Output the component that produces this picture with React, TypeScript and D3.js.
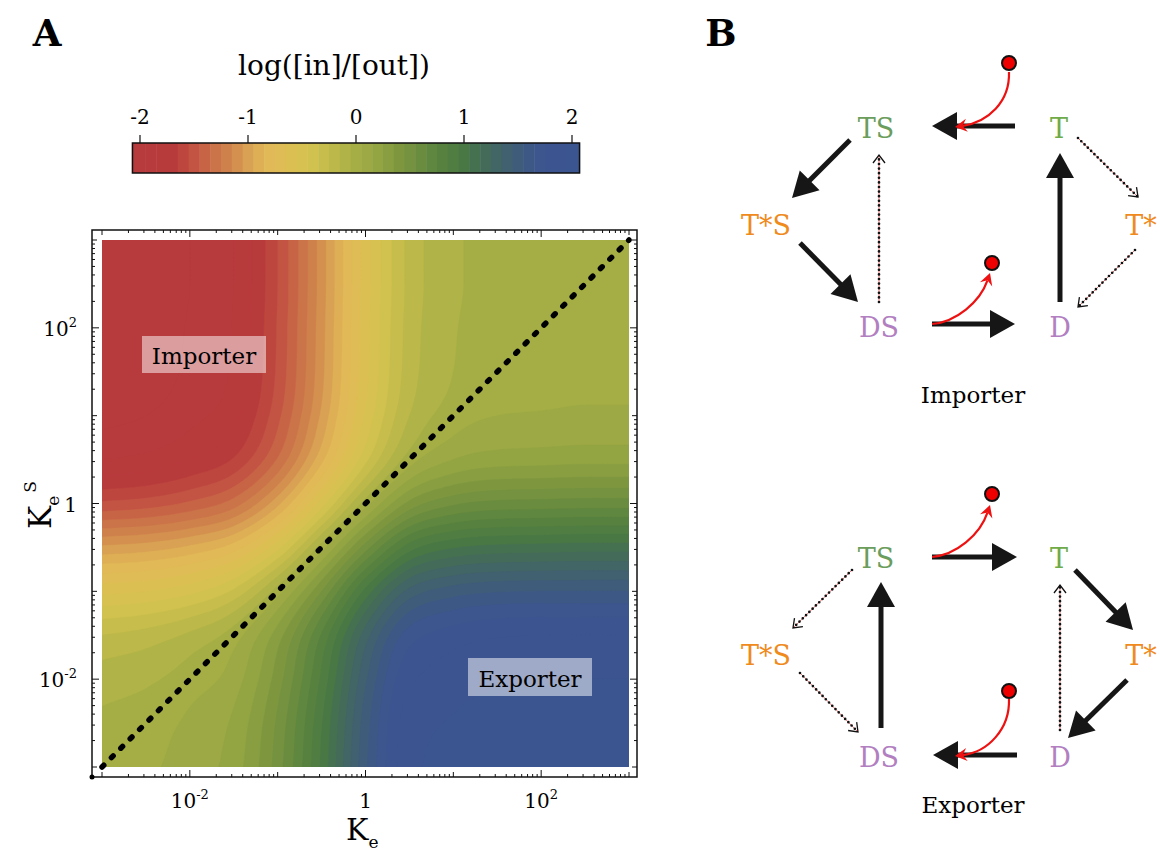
import React, { useMemo } from 'react';
import * as d3 from 'd3';

const FONT = '"DejaVu Serif", serif';

// grid positions, log10 of K_e (columns) and K_e^S (rows, top to bottom)
const logKe = [-3, -2.5, -2, -1.5, -1, -0.5, 0, 0.5, 1, 1.5, 2, 2.5, 3];
const logKeS = [3, 2.5, 2, 1.5, 1, 0.5, 0, -0.5, -1, -1.5, -2, -2.5, -3];

// log([in]/[out])
const logRatio = [
  [-2.05, -2.02, -1.95, -1.85, -1.55, -1.1, -0.6, -0.22, -0.07, -0.02, -0.01, 0.0, 0.0],
  [-2.05, -2.02, -1.95, -1.85, -1.55, -1.1, -0.6, -0.22, -0.07, -0.02, -0.01, 0.0, 0.0],
  [-2.04, -2.01, -1.94, -1.84, -1.54, -1.09, -0.59, -0.21, -0.06, -0.01, 0.0, 0.01, 0.01],
  [-2.03, -2.0, -1.93, -1.83, -1.53, -1.08, -0.58, -0.2, -0.05, 0.0, 0.01, 0.02, 0.02],
  [-1.98, -1.95, -1.88, -1.78, -1.48, -1.03, -0.53, -0.15, 0.0, 0.05, 0.06, 0.07, 0.07],
  [-1.85, -1.82, -1.75, -1.64, -1.34, -0.88, -0.38, 0.0, 0.15, 0.2, 0.21, 0.22, 0.22],
  [-1.53, -1.5, -1.43, -1.3, -0.98, -0.5, 0.0, 0.38, 0.53, 0.58, 0.59, 0.6, 0.6],
  [-1.03, -1.0, -0.93, -0.8, -0.48, 0.0, 0.5, 0.9, 1.04, 1.08, 1.09, 1.1, 1.1],
  [-0.58, -0.55, -0.48, -0.33, 0.0, 0.45, 0.98, 1.38, 1.5, 1.54, 1.55, 1.55, 1.55],
  [-0.25, -0.21, -0.13, 0.0, 0.3, 0.76, 1.3, 1.7, 1.8, 1.84, 1.85, 1.85, 1.85],
  [-0.1, -0.07, 0.0, 0.1, 0.4, 0.87, 1.43, 1.83, 1.9, 1.93, 1.94, 1.95, 1.95],
  [-0.03, 0.0, 0.07, 0.17, 0.47, 0.94, 1.5, 1.9, 1.96, 2.0, 2.01, 2.02, 2.02],
  [0.0, 0.03, 0.1, 0.2, 0.5, 0.97, 1.53, 1.92, 1.99, 2.03, 2.04, 2.05, 2.05],
];

// colour function of the plot
const colorValues = [-2.1, -1.7, -1.55, -1.4, -1.25, -1.1, -0.95, -0.8, -0.6, -0.4, -0.2, 0, 0.2, 0.4, 0.6, 0.8, 1.0, 1.15, 1.3, 1.45, 1.6, 1.75, 2.1];
const colorHexes = ['#b6393c', '#b83b3c', '#c04b41', '#c86446', '#cd7a4b', '#d4904f', '#dcaa55', '#e1b956', '#dcbf53', '#d1c24f', '#bcb849', '#a4ae45', '#93a442', '#7e973f', '#6a8c3e', '#56813f', '#497845', '#456e55', '#426565', '#405e75', '#3e5886', '#3c5590', '#3b5592'];

const colorbarTicks = [-2, -1, 0, 1, 2];
const colorbarRange = [-2.07, 2.07];
const axisExponents = [-2, 0, 2];

const green1 = '#6b9d5c';
const green2 = '#6fab48';
const orange = '#ef8a1d';
const purple = '#b27fc1';

// B: reaction scheme layout
const schemeNodes = [
  { label: 'TS', x: 876, y: 138, color: green1 },
  { label: 'T', x: 1059, y: 138, color: green2 },
  { label: 'T*S', x: 766, y: 235, color: orange },
  { label: 'T*', x: 1141, y: 235, color: orange },
  { label: 'DS', x: 879, y: 337, color: purple },
  { label: 'D', x: 1060, y: 337, color: purple },
];

const importerSolid = [
  [1015, 126, 932, 126], [850, 140, 792, 198], [800, 243, 858, 302], [932, 324, 1015, 324], [1060, 302, 1060, 153],
];
const importerDotted = [
  [879, 302, 879, 155], [1078, 138, 1138, 197], [1135, 250, 1078, 307],
];
const importerRed = [
  { d: [1009, 72, 1010, 102, 988, 122, 955, 127], dot: [1009, 63] },
  { d: [932, 324, 956, 322, 980, 302, 990, 273], dot: [992, 263] },
];

const exporterSolid = [
  [932, 557, 1017, 557], [1075, 570, 1133, 630], [1127, 680, 1068, 738], [1017, 755, 933, 755], [881, 728, 881, 582],
];
const exporterDotted = [
  [1060, 730, 1060, 585], [852, 570, 793, 628], [800, 673, 858, 732],
];
const exporterRed = [
  { d: [932, 557, 956, 555, 980, 535, 990, 505], dot: [992, 494] },
  { d: [1009, 699, 1010, 729, 988, 752, 955, 756], dot: [1009, 691] },
];

// monotone (Steffen) resampling between grid nodes, for drawing only
function monotone(arr: number[], f: number) {
  const n = arr.length;
  const d = d3.range(n - 1).map(i => arr[i + 1] - arr[i]);
  const m = arr.map((_, i) => {
    if (i === 0) return d[0];
    if (i === n - 1) return d[n - 2];
    const a = d[i - 1], b = d[i];
    if (a * b <= 0) return 0;
    return (Math.sign(a) + Math.sign(b)) * Math.min(Math.abs(a), Math.abs(b), 0.25 * Math.abs(a + b));
  });
  const out: number[] = [];
  for (let i = 0; i < n - 1; i++) {
    for (let k = 0; k < f; k++) {
      const t = k / f, t2 = t * t, t3 = t2 * t;
      out.push((2 * t3 - 3 * t2 + 1) * arr[i] + (t3 - 2 * t2 + t) * m[i] + (-2 * t3 + 3 * t2) * arr[i + 1] + (t3 - t2) * m[i + 1]);
    }
  }
  out.push(arr[n - 1]);
  return out;
}

function BlackArrow({ a }: { a: number[] }) {
  const [x1, y1, x2, y2] = a;
  const L = Math.hypot(x2 - x1, y2 - y1);
  const ux = (x2 - x1) / L, uy = (y2 - y1) / L;
  const hl = 25, hw = 14;
  const bx = x2 - ux * hl, by = y2 - uy * hl;
  const pts = [[x2, y2], [bx - uy * hw, by + ux * hw], [bx + uy * hw, by - ux * hw]];
  return (
    <g>
      <line x1={x1} y1={y1} x2={bx + ux * 3} y2={by + uy * 3} stroke="#161616" strokeWidth={5} />
      <polygon points={pts.map(p => p.join(',')).join(' ')} fill="#161616" />
    </g>
  );
}

function DottedArrow({ a }: { a: number[] }) {
  const [x1, y1, x2, y2] = a;
  const L = Math.hypot(x2 - x1, y2 - y1);
  const ux = (x2 - x1) / L, uy = (y2 - y1) / L;
  const hl = 8, hw = 6;
  const bx = x2 - ux * hl, by = y2 - uy * hl;
  return (
    <g>
      <line x1={x1} y1={y1} x2={x2} y2={y2} stroke="#e33" strokeWidth={0.7} />
      <line x1={x1} y1={y1} x2={x2} y2={y2} stroke="#111" strokeWidth={2.7} strokeDasharray="0 4.6" strokeLinecap="round" />
      <polyline points={`${bx - uy * hw},${by + ux * hw} ${x2},${y2} ${bx + uy * hw},${by - ux * hw}`} fill="none" stroke="#111" strokeWidth={1.3} />
    </g>
  );
}

function RedArrow({ d, dot }: { d: number[]; dot: number[] }) {
  const [x0, y0, c1x, c1y, c2x, c2y, x3, y3] = d;
  const L = Math.hypot(x3 - c2x, y3 - c2y);
  const ux = (x3 - c2x) / L, uy = (y3 - c2y) / L;
  const hl = 12, hw = 6.5;
  const bx = x3 - ux * hl, by = y3 - uy * hl;
  const nx = x3 - ux * hl * 0.65, ny = y3 - uy * hl * 0.65;
  return (
    <g>
      <path d={`M${x0},${y0} C${c1x},${c1y} ${c2x},${c2y} ${nx},${ny}`} fill="none" stroke="#ee1111" strokeWidth={2.2} />
      <path d={`M${x3},${y3} L${bx - uy * hw},${by + ux * hw} L${nx},${ny} L${bx + uy * hw},${by - ux * hw} Z`} fill="#ee1111" />
      <circle cx={dot[0]} cy={dot[1]} r={7} fill="#ee0000" stroke="#111" strokeWidth={2} />
    </g>
  );
}

function Scheme({ dy, solid, dotted, red, caption, captionY }: any) {
  return (
    <g>
      {schemeNodes.map(n => (
        <text key={n.label} x={n.x} y={n.y + dy} textAnchor="middle" fontSize={27} fill={n.color} fontFamily={FONT}>{n.label}</text>
      ))}
      {solid.map((a: number[], i: number) => <BlackArrow key={'s' + i} a={a} />)}
      {dotted.map((a: number[], i: number) => <DottedArrow key={'d' + i} a={a} />)}
      {red.map((r: any, i: number) => <RedArrow key={'r' + i} d={r.d} dot={r.dot} />)}
      <text x={973} y={captionY} textAnchor="middle" fontSize={23} fontFamily={FONT}>{caption}</text>
    </g>
  );
}

export default function App() {
  const left = 102, right = 629, top = 240, bottom = 767;
  const frame = { x0: 92, x1: 637, y0: 230, y1: 777 };

  const xScale = d3.scaleLog().domain([1e-3, 1e3]).range([left, right]);
  const yScale = d3.scaleLog().domain([1e-3, 1e3]).range([bottom, top]);
  const color = d3.scaleLinear<string>().domain(colorValues).range(colorHexes).clamp(true);

  const thresholds = [-10, ...d3.range(-20, 21).map(i => i / 10 - 0.05)];

  const bands = useMemo(() => {
    const F = 10;
    const rows = logRatio.map(r => monotone(r, F));
    const nx = rows[0].length;
    const cols = d3.range(nx).map(j => monotone(rows.map(r => r[j]), F));
    const ny = cols[0].length;
    const values = new Array(nx * ny);
    for (let i = 0; i < ny; i++) for (let j = 0; j < nx; j++) values[i * nx + j] = cols[j][i];
    const step = 0.5 / F;
    const proj = d3.geoTransform({
      point(x: number, y: number) {
        const lx = logKe[0] + (x - 0.5) * step;
        const ly = logKeS[0] - (y - 0.5) * step;
        (this as any).stream.point(xScale(Math.pow(10, lx)), yScale(Math.pow(10, ly)));
      },
    });
    const path = d3.geoPath(proj);
    return d3.contours().size([nx, ny]).thresholds(thresholds)(values).map((c, i) => ({
      d: path(c as any) || '',
      fill: color(i === 0 ? -2.1 : thresholds[i] + 0.05),
    }));
  }, []);

  const cbX = d3.scaleLinear().domain([-2, 2]).range([140, 572]);
  const cbTop = 143, cbH = 30;
  const cbBands = thresholds.slice(1).map((t, i) => {
    const lo = Math.max(t, colorbarRange[0]);
    const hi = Math.min(thresholds[i + 2] ?? colorbarRange[1], colorbarRange[1]);
    return { lo, hi, fill: color(t + 0.05) };
  });
  cbBands.unshift({ lo: colorbarRange[0], hi: thresholds[1], fill: color(-2.1) });

  // frame ticks
  const tickVals: { v: number; len: number }[] = [];
  for (let e = -3; e <= 3; e++) {
    for (let m = 1; m <= 9; m++) {
      const v = m * Math.pow(10, e);
      if (v > 1000.0001) continue;
      tickVals.push({ v, len: m === 1 ? (axisExponents.includes(e) ? 7 : 5) : 3 });
    }
  }

  const diag = [[1e-3, 1e-3], [1e3, 1e3]];

  return (
    <svg width={1160} height={851} style={{ position: 'absolute', left: 0, top: 0, background: '#fff' }} fontFamily={FONT}>
      <defs>
        <clipPath id="plotClip"><rect x={left} y={top} width={right - left} height={bottom - top} /></clipPath>
      </defs>

      <text x={47} y={46} textAnchor="middle" fontSize={37} fontWeight="bold">A</text>
      <text x={721} y={46} textAnchor="middle" fontSize={37} fontWeight="bold">B</text>

      {/* colour bar */}
      <text x={334} y={75} textAnchor="middle" fontSize={28}>log([in]/[out])</text>
      {cbBands.map((b, i) => (
        <rect key={i} x={cbX(b.lo)} y={cbTop} width={Math.max(0, cbX(b.hi) - cbX(b.lo)) + 0.5} height={cbH} fill={b.fill} />
      ))}
      <rect x={cbX(colorbarRange[0])} y={cbTop} width={cbX(colorbarRange[1]) - cbX(colorbarRange[0])} height={cbH} fill="none" stroke="#111" strokeWidth={1.5} />
      {colorbarTicks.map(t => (
        <g key={t}>
          <line x1={cbX(t)} x2={cbX(t)} y1={cbTop - 8} y2={cbTop} stroke="#111" strokeWidth={1.2} />
          <text x={cbX(t)} y={124} textAnchor="middle" fontSize={20}>{t}</text>
        </g>
      ))}

      {/* contour plot */}
      <g clipPath="url(#plotClip)">
        {bands.map((b, i) => <path key={i} d={b.d} fill={b.fill} stroke={b.fill} strokeWidth={0.4} />)}
      </g>
      <line x1={xScale(diag[0][0])} y1={yScale(diag[0][1])} x2={xScale(diag[1][0])} y2={yScale(diag[1][1])}
        stroke="#000" strokeWidth={5.5} strokeLinecap="round" strokeDasharray="2.5 10.8" />

      <rect x={142} y={336} width={124} height={37} fill="#fff" fillOpacity={0.5} />
      <text x={204} y={364} textAnchor="middle" fontSize={23}>Importer</text>
      <rect x={468} y={658} width={124} height={38} fill="#fff" fillOpacity={0.5} />
      <text x={530} y={687} textAnchor="middle" fontSize={23}>Exporter</text>

      <rect x={frame.x0} y={frame.y0} width={frame.x1 - frame.x0} height={frame.y1 - frame.y0} fill="none" stroke="#111" strokeWidth={1.5} />
      {tickVals.map((t, i) => (
        <g key={i} stroke="#111" strokeWidth={1}>
          <line x1={xScale(t.v)} x2={xScale(t.v)} y1={frame.y1} y2={frame.y1 - t.len} />
          <line x1={xScale(t.v)} x2={xScale(t.v)} y1={frame.y0} y2={frame.y0 + t.len} />
          <line y1={yScale(t.v)} y2={yScale(t.v)} x1={frame.x0} x2={frame.x0 + t.len} />
          <line y1={yScale(t.v)} y2={yScale(t.v)} x1={frame.x1} x2={frame.x1 - t.len} />
        </g>
      ))}
      <circle cx={frame.x0} cy={frame.y1} r={2.5} fill="#000" />

      {axisExponents.map(e => (
        <g key={e}>
          <text x={xScale(Math.pow(10, e))} y={808} textAnchor="middle" fontSize={20}>
            {e === 0 ? '1' : <>10<tspan dy={-9} fontSize={13}>{e}</tspan></>}
          </text>
          <text x={77} y={yScale(Math.pow(10, e)) + 8} textAnchor="end" fontSize={20}>
            {e === 0 ? '1' : <>10<tspan dy={-9} fontSize={13}>{e}</tspan></>}
          </text>
        </g>
      ))}

      <text x={346} y={840} fontSize={30}>K<tspan dy={8} fontSize={17}>e</tspan></text>
      <g transform="translate(51,529) rotate(-90)">
        <text x={0} y={0} fontSize={31}>K<tspan dy={8} fontSize={17}>e</tspan><tspan dx={3} dy={-23} fontSize={17}>S</tspan></text>
      </g>

      {/* B: schemes */}
      <Scheme dy={0} solid={importerSolid} dotted={importerDotted} red={importerRed} caption="Importer" captionY={403} />
      <Scheme dy={430} solid={exporterSolid} dotted={exporterDotted} red={exporterRed} caption="Exporter" captionY={813} />
    </svg>
  );
}
